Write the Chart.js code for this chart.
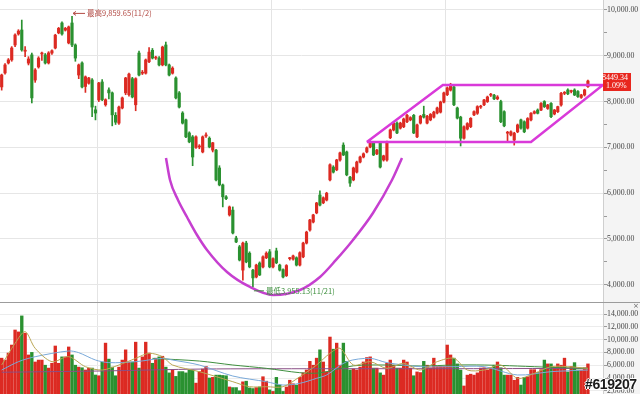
<!DOCTYPE html>
<html>
<head>
<meta charset="utf-8">
<script src="https://cdn.jsdelivr.net/npm/chart.js@4.4.0/dist/chart.umd.min.js"></script>
<style>
  html, body { margin: 0; padding: 0; background: #fff; }
  #wrap { position: relative; width: 640px; height: 394px; overflow: hidden; }
  #priceChart { position: absolute; left: 0; top: 0; }
  #sep { position: absolute; left: 0; top: 302px; width: 640px; height: 1px; background: #9c9c9c; }
  #volChart { position: absolute; left: 0; top: 303px; }
  #closeBox { position: absolute; left: 633px; top: 302px; font: 7px "DejaVu Sans"; color: #666; }
  #mark { position: absolute; left: 585px; top: 376px; font: bold 14px "Liberation Sans"; color: #1a1a1a;
          letter-spacing: -0.4px;
          text-shadow: -1px 0 #fff, 1px 0 #fff, 0 -1px #fff, 0 1px #fff; }
</style>
</head>
<body>
<div id="wrap">
  <canvas id="priceChart" width="640" height="302"></canvas>
  <div id="sep"></div>
  <canvas id="volChart" width="640" height="91"></canvas>
  <div id="closeBox">×</div>
  <div id="mark">#619207</div>
</div>
<script>
// daily candles
const opens = [
  8320, 8625, 8843, 8910, 9236, 9476, 9563, 9100, 8840, 9020,
  8470, 8756, 9040, 9020, 8843, 9060, 9170, 9500, 9716, 9560,
  9280, 9716, 9236, 8580, 8843, 8330, 8400, 8472, 7820, 8036,
  8428, 7930, 8254, 8190, 7700, 7530, 7860, 8190, 8150, 8500,
  7930, 9060, 8620, 8620, 8870, 9120, 8950, 8950, 8800, 9236,
  8800, 8620, 8515, 8190, 7750, 7600, 7315, 7230, 7000, 7010,
  6900, 7250, 7200, 6940, 6940, 6550, 6180, 5920, 5525, 5630,
  5020, 4830, 4320, 4910, 4690, 4320, 4170, 4475, 4390, 4590,
  4720, 4390, 4740, 4430, 4330, 4200, 4570, 4560, 4590, 4430,
  4610, 4910, 5195, 5370, 5570, 5960, 5790, 5850, 6290, 6570,
  6510, 6725, 7050, 6900, 6350, 6290, 6460, 6680, 6790, 6900,
  7010, 7090, 6860, 7100, 6725, 6725, 7210, 7380, 7530, 7420,
  7450, 7560, 7600, 7700, 7230, 7530, 7720, 7530, 7600, 7660,
  7750, 7770, 7990, 8150, 8250, 8320, 7860, 7660, 7200, 7400,
  7453, 7710, 7745, 7880, 7930, 8000, 8140, 8140, 8060, 8000,
  7780, 7310, 7270, 7160, 7340, 7600, 7560, 7420, 7600, 7745,
  7815, 7815, 8000, 7850, 7960, 7730, 7780, 7925, 8180, 8254,
  8220, 8254, 8220, 8090, 8144, 8326
];
const highs = [
  8600, 8830, 8940, 9200, 9480, 9570, 9780, 9200, 8980, 9060,
  8720, 8980, 9080, 9050, 9090, 9130, 9470, 9620, 9740, 9620,
  9650, 9860, 9260, 8820, 8870, 8560, 8530, 8500, 7900, 8420,
  8480, 8060, 8300, 8210, 7760, 7900, 8100, 8530, 8620, 8530,
  8520, 9100, 8680, 8930, 9180, 9160, 8990, 8980, 9210, 9300,
  8820, 8760, 8540, 8220, 7780, 7620, 7340, 7260, 7250, 7060,
  7250, 7320, 7230, 7110, 6960, 6600, 6200, 5950, 5720, 5700,
  5060, 4860, 4930, 4950, 4720, 4340, 4450, 4500, 4630, 4720,
  4770, 4590, 4800, 4450, 4350, 4440, 4600, 4650, 4610, 4720,
  4930, 5170, 5430, 5540, 5800, 6050, 5920, 6020, 6640, 6600,
  6740, 6900, 7100, 6920, 6370, 6570, 6700, 6810, 6880, 7010,
  7110, 7120, 6960, 7130, 6830, 7140, 7400, 7550, 7560, 7550,
  7640, 7720, 7670, 7720, 7510, 7700, 7900, 7700, 7740, 7790,
  7880, 8010, 8210, 8320, 8400, 8340, 7880, 7680, 7470, 7540,
  7650, 7800, 7910, 7920, 8050, 8120, 8180, 8160, 8130, 8030,
  7800, 7350, 7360, 7330, 7510, 7620, 7580, 7650, 7760, 7800,
  7840, 7980, 8020, 7940, 7980, 7830, 7900, 8200, 8220, 8280,
  8250, 8280, 8240, 8160, 8270, 8470
];
const lows = [
  8250, 8600, 8820, 8880, 9200, 9450, 9100, 8980, 8800, 7970,
  8420, 8730, 8900, 8820, 8820, 9030, 9150, 9480, 9450, 9540,
  9260, 9200, 8880, 8500, 8300, 8200, 8380, 7670, 7600, 8000,
  8020, 7900, 8060, 7470, 7500, 7500, 7840, 8150, 8120, 8080,
  7800, 8560, 8590, 8600, 8850, 8930, 8920, 8780, 8780, 8780,
  8560, 8600, 8060, 7860, 7510, 7210, 7100, 6600, 6980, 6970,
  6880, 7220, 6990, 6900, 6270, 6160, 5700, 5860, 5500, 5110,
  4920, 4520, 4100, 4480, 4370, 3955, 4150, 4200, 4370, 4570,
  4370, 4370, 4460, 4300, 4150, 4180, 4540, 4540, 4410, 4410,
  4590, 4890, 5170, 5350, 5550, 5720, 5770, 5830, 6270, 6440,
  6490, 6700, 6820, 6380, 6150, 6270, 6440, 6660, 6770, 6880,
  6990, 6820, 6840, 6550, 6700, 6700, 7190, 7360, 7300, 7400,
  7430, 7540, 7580, 7300, 7210, 7510, 7640, 7510, 7580, 7640,
  7730, 7750, 7970, 8130, 8230, 7910, 7620, 7030, 7180, 7380,
  7430, 7690, 7720, 7850, 7910, 7980, 8110, 8040, 8040, 7540,
  7450, 7130, 7250, 7050, 7320, 7400, 7320, 7400, 7580, 7730,
  7730, 7800, 7870, 7830, 7650, 7710, 7760, 7900, 8150, 8150,
  8190, 8130, 8090, 8070, 8120, 8310
];
const closes = [
  8580, 8800, 8910, 9170, 9454, 9540, 9127, 9110, 8930, 8080,
  8690, 8950, 9045, 8843, 9062, 9110, 9450, 9600, 9476, 9600,
  9630, 9236, 8950, 8800, 8319, 8540, 8515, 7880, 7750, 8406,
  8040, 8040, 8190, 7710, 7550, 7880, 8080, 8515, 8600, 8100,
  8500, 8580, 8625, 8910, 9080, 8950, 8955, 8800, 9190, 8800,
  8580, 8730, 8080, 7880, 7530, 7230, 7120, 6790, 7230, 7015,
  7230, 7255, 7010, 7100, 6290, 6180, 5920, 5880, 5700, 5130,
  4935, 4540, 4910, 4500, 4390, 4150, 4430, 4215, 4610, 4690,
  4390, 4570, 4480, 4320, 4170, 4420, 4575, 4630, 4430, 4700,
  4910, 5150, 5415, 5525, 5785, 5740, 5900, 6000, 6620, 6460,
  6725, 6880, 6835, 6400, 6220, 6550, 6680, 6790, 6860, 6990,
  7090, 6835, 6940, 6570, 6815, 7120, 7380, 7530, 7315, 7530,
  7620, 7700, 7650, 7315, 7490, 7680, 7660, 7680, 7720, 7770,
  7860, 7990, 8190, 8300, 8360, 7930, 7640, 7200, 7450, 7520,
  7635, 7780, 7890, 7885, 8035, 8100, 8145, 8060, 8100, 7560,
  7470, 7315, 7340, 7310, 7490, 7420, 7340, 7630, 7745, 7780,
  7745, 7960, 7890, 7925, 7670, 7815, 7890, 8180, 8185, 8170,
  8225, 8144, 8110, 8144, 8254, 8449.34
];
const volumes = [
  7100, 6800, 7900, 9150, 11500, 11200, 13700, 11000, 7600, 8000,
  6500, 6800, 6800, 6000, 5550, 6300, 9000, 6300, 7300, 7300,
  8850, 7600, 6000, 5700, 5600, 5250, 5550, 5550, 4470, 4350,
  6500, 9450, 6950, 5700, 4350, 5700, 6800, 8400, 6500, 6500,
  9600, 5550, 7300, 9600, 7900, 6300, 7100, 7300, 7400, 5700,
  4800, 5250, 4250, 5000, 5000, 4800, 5250, 5250, 3200, 5000,
  5400, 5800, 4000, 4100, 4450, 4450, 4400, 4350, 2600, 2500,
  2500, 2000, 3400, 3500, 2450, 2350, 2500, 2600, 4200, 3500,
  2150, 1900, 4100, 2900, 1900, 2600, 3650, 3100, 2900, 4100,
  4800, 5250, 6600, 6000, 7100, 8400, 6500, 4950, 10400, 8500,
  9450, 6000, 9450, 6600, 5250, 5400, 5250, 5700, 6500, 7200,
  7300, 5550, 5550, 4800, 4450, 6300, 6800, 6000, 5550, 5550,
  6800, 6500, 5550, 4350, 4950, 4850, 6600, 6000, 5600, 7100,
  5800, 5800, 5800, 9150, 7600, 7100, 6200, 5250, 2750, 4450,
  4600, 4450, 4800, 5550, 5600, 5250, 5600, 6000, 6500, 5600,
  4450, 4450, 4450, 3650, 4100, 2900, 4100, 4200, 5300, 5300,
  4850, 5300, 6800, 6200, 6200, 5700, 6200, 6000, 7100, 4950,
  5800, 6400, 5250, 5250, 5600, 6200
];

// volume moving averages, [day index, value]
const maFast = [[0,6030],[4,9420],[7,11240],[10,8640],[15,6550],[20,7330],[25,5770],[30,5250],[35,6030],[40,7070],[44,7860],[48,7330],[51,6030],[59,4990],[69,3420],[74,2640],[79,2640],[84,2640],[89,4200],[94,6030],[98,7860],[101,8640],[105,6030],[110,6550],[115,5510],[120,6300],[125,5250],[130,6550],[135,7070],[139,5250],[144,5250],[149,6030],[154,3950],[159,4730],[164,5770],[169,5770],[175,5510]];
const maMid = [[0,5250],[5,6550],[10,7330],[20,8220],[23,7960],[28,6810],[32,6400],[40,6550],[48,7070],[51,6810],[59,6030],[69,4310],[79,3420],[84,2900],[89,3170],[94,3950],[97,4470],[103,6550],[110,7070],[115,6400],[125,5770],[135,5770],[144,5770],[154,4470],[164,4990],[175,5250]];
const maSlow = [[45,7070],[59,6650],[69,6030],[79,5510],[89,4830],[95,4800],[105,5900],[115,6030],[125,5870],[135,6030],[144,6030],[154,5870],[164,5670],[175,5510]];
const maLong = [[0,4900],[30,5100],[60,5400],[95,5450],[130,5450],[175,5500]];

const slotCount = 180;
const monthStarts = [29, 81, 133];
const priceTicks = [4000, 4500, 5000, 5500, 6000, 6500, 7000, 7500, 8000, 8500, 9000, 9500, 10000];
const volumeTicks = [2000, 4000, 6000, 8000, 10000, 12000, 14000];

// hand-drawn pattern marks, in (day, price)
const bowlX = [49.05, 50.25, 52.63, 55.32, 58.31, 61.29, 67.26, 74.13, 80.99, 89.05, 95.02, 99.8, 104.87, 110.84, 116.51, 119.5];
const bowlY = [6769, 6288, 5852, 5480, 5087, 4760, 4279, 3952, 3777, 3886, 4170, 4542, 4978, 5568, 6288, 6769];
const boxX = [109, 131.7, 179.5, 158, 109];
const boxY = [7118, 8362, 8362, 7118, 7118];

const highIdx = 21, highNote = "最高9,859.65(11/2)";
const lowIdx = 75, lowNote = "最低3,955.13(11/21)";
const lastChange = "1.09%";

const RED = "#dc2a22";
const GREEN = "#2a9130";
const PINK = "#d93ad9";

var colors = closes.map((c, i) => (c >= opens[i] ? RED : GREEN));

function pts(xs, ys) {
  return xs.map((x, i) => ({ x: x, y: ys[i] }));
}
function pairs(list) {
  return list.map((p) => ({ x: p[0], y: p[1] }));
}
function money(v) {
  return v.toLocaleString("en-US", { minimumFractionDigits: 2, maximumFractionDigits: 2 });
}

const axisBg = {
  id: "axisBg",
  beforeDraw(chart) {
    var ctx = chart.ctx, a = chart.chartArea;
    ctx.save();
    ctx.fillStyle = "#f4f4f4";
    ctx.fillRect(a.right, 0, chart.width - a.right, chart.height);
    ctx.restore();
  }
};

const notes = {
  id: "notes",
  afterDraw(chart) {
    var ctx = chart.ctx, x = chart.scales.x, y = chart.scales.y, a = chart.chartArea;
    ctx.save();
    // high
    var hx = x.getPixelForValue(highIdx), hy = y.getPixelForValue(highs[highIdx]) - 3;
    ctx.strokeStyle = "#b24a44"; ctx.fillStyle = "#b24a44"; ctx.lineWidth = 1;
    ctx.beginPath(); ctx.moveTo(hx + 1, hy); ctx.lineTo(hx + 13, hy); ctx.stroke();
    ctx.beginPath(); ctx.moveTo(hx + 1, hy); ctx.lineTo(hx + 4, hy - 2); ctx.moveTo(hx + 1, hy); ctx.lineTo(hx + 4, hy + 2); ctx.stroke();
    ctx.font = '7.5px "Noto Sans CJK TC"';
    ctx.textBaseline = "middle";
    ctx.fillText(highNote, hx + 15, hy);
    // low
    var lx = x.getPixelForValue(lowIdx), ly = y.getPixelForValue(lows[lowIdx]) + 4;
    ctx.strokeStyle = "#3d8f3d"; ctx.fillStyle = "#3d8f3d";
    ctx.beginPath(); ctx.moveTo(lx + 1, ly); ctx.lineTo(lx + 11, ly); ctx.stroke();
    ctx.fillText(lowNote, lx + 13, ly);
    // last price tag
    var last = closes.length - 1, py = y.getPixelForValue(closes[last]);
    ctx.fillStyle = "#e8261e";
    ctx.fillRect(a.right, py - 8, 28, 18);
    ctx.fillStyle = "#fff";
    ctx.font = '8px "Liberation Serif"';
    ctx.textAlign = "left";
    ctx.fillText(closes[last].toFixed(2), a.right - 1, py - 3);
    ctx.fillText(lastChange, a.right + 3, py + 5);
    ctx.restore();
  }
};

function dayAxis() {
  return {
    type: "linear",
    min: -0.5, max: slotCount - 0.5,
    offset: false,
    afterBuildTicks: (s) => { s.ticks = monthStarts.map((m) => ({ value: m - 0.5 })); },
    ticks: { display: false },
    grid: { drawTicks: false, offset: false, color: "#e4e4e4" },
    border: { display: false },
  };
}
function flatPadding(scale) {
  scale.width = 37;
  scale.paddingTop = 0;
  scale.paddingBottom = 0;
}

new Chart(document.getElementById("priceChart"), {
  type: "bar",
  data: {
    datasets: [
      {
        type: "line", data: pts(bowlX, bowlY),
        borderColor: "#c63fd0", borderWidth: 2.5, pointRadius: 0, cubicInterpolationMode: "monotone", order: 0,
      },
      {
        type: "line", data: pts(boxX, boxY),
        borderColor: PINK, borderWidth: 2.5, pointRadius: 0, tension: 0, order: 0,
      },
      {
        label: "body",
        data: closes.map((c, i) => ({ x: i, y: [opens[i], c] })),
        backgroundColor: colors, barThickness: 2.5, minBarLength: 1, grouped: false, order: 2,
      },
      {
        label: "wick",
        data: closes.map((c, i) => ({ x: i, y: [lows[i], highs[i]] })),
        backgroundColor: colors, barThickness: 1, grouped: false, order: 3,
      },
    ],
  },
  options: {
    responsive: false,
    animation: false,
    layout: { padding: 0 },
    plugins: { legend: { display: false }, tooltip: { enabled: false } },
    scales: {
      x: dayAxis(),
      y: {
        position: "right",
        min: 3624, max: 10218,
        afterBuildTicks: (s) => { s.ticks = priceTicks.map((v) => ({ value: v })); },
        afterFit: flatPadding,
        ticks: {
          padding: 0, color: "#444",
          font: { family: "Liberation Serif", size: 7.8 },
          callback: (v) => (v % 1000 === 0 ? money(v) : ""),
        },
        grid: {
          tickLength: 4, tickColor: "#9a9a9a",
          color: (c) => (c.tick && c.tick.value % 1000 === 0 ? "#e6e6e6" : "transparent"),
        },
        border: { color: "#cfcfcf" },
      },
    },
  },
  plugins: [axisBg, notes],
});

new Chart(document.getElementById("volChart"), {
  type: "bar",
  data: {
    datasets: [
      { type: "line", data: pairs(maFast), borderColor: "#b9a552", borderWidth: 1, pointRadius: 0, tension: 0.3, order: 1 },
      { type: "line", data: pairs(maMid), borderColor: "#79a9d9", borderWidth: 1, pointRadius: 0, tension: 0.3, order: 1 },
      { type: "line", data: pairs(maSlow), borderColor: "#3f8f3f", borderWidth: 1, pointRadius: 0, tension: 0.3, order: 1 },
      { type: "line", data: pairs(maLong), borderColor: "#8a4f86", borderWidth: 1, pointRadius: 0, tension: 0.3, order: 1 },
      {
        label: "volume",
        data: volumes.map((v, i) => ({ x: i, y: v })),
        backgroundColor: colors, barThickness: 2.7, order: 4,
      },
    ],
  },
  options: {
    responsive: false,
    animation: false,
    layout: { padding: 0 },
    plugins: { legend: { display: false }, tooltip: { enabled: false } },
    scales: {
      x: dayAxis(),
      y: {
        position: "right",
        min: 1500, max: 15719,
        afterBuildTicks: (s) => { s.ticks = volumeTicks.map((v) => ({ value: v })); },
        afterFit: flatPadding,
        ticks: {
          padding: 0, color: "#444",
          font: { family: "Liberation Serif", size: 7.8 },
          callback: (v) => money(v),
        },
        grid: { tickLength: 4, tickColor: "#9a9a9a", color: "#ececec" },
        border: { color: "#cfcfcf" },
      },
    },
  },
  plugins: [axisBg],
});
</script>
</body>
</html>
